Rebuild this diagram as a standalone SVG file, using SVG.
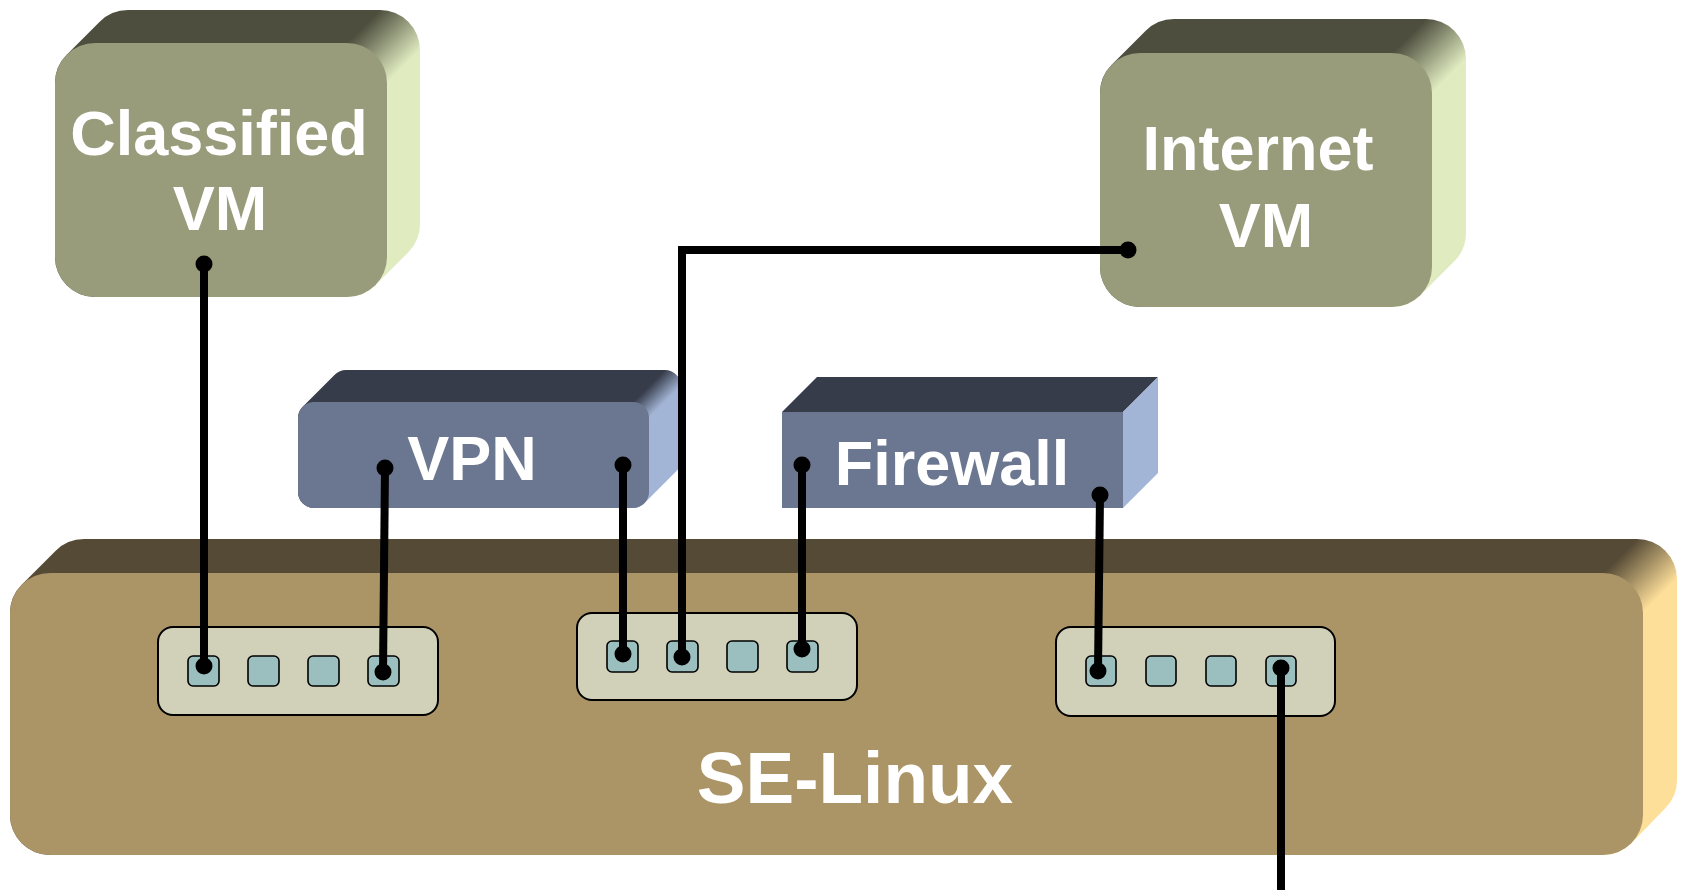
<svg xmlns="http://www.w3.org/2000/svg" width="1682" height="890" viewBox="0 0 1682 890">
<style>
.lbl{font-family:"Liberation Sans",Arial,sans-serif;font-weight:bold;fill:#ffffff;text-anchor:middle}
.vmf{fill:#989C7B}
.blf{fill:#6B7790}
.sef{fill:#AB9567}
.panel{fill:#D1D1B9;stroke:#000;stroke-width:2}
.port{fill:#9BBFBF;stroke:#000;stroke-width:1.6}
.wire{fill:none;stroke:#000;stroke-width:8;stroke-linejoin:miter}
.dot{fill:#000}
</style>
<defs>
<linearGradient id="gCls" gradientUnits="userSpaceOnUse" x1="347" y1="43" x2="387" y2="83"><stop offset="0" stop-color="#4D4E3D"/><stop offset="1" stop-color="#E0EBC0"/></linearGradient>
<linearGradient id="gInt" gradientUnits="userSpaceOnUse" x1="1392" y1="53" x2="1432" y2="93"><stop offset="0" stop-color="#4D4E3D"/><stop offset="1" stop-color="#E0EBC0"/></linearGradient>
<linearGradient id="gVpn" gradientUnits="userSpaceOnUse" x1="633" y1="402" x2="649" y2="418"><stop offset="0" stop-color="#363C4A"/><stop offset="1" stop-color="#A3B5D6"/></linearGradient>
<linearGradient id="gSe" gradientUnits="userSpaceOnUse" x1="1603" y1="573" x2="1643" y2="613"><stop offset="0" stop-color="#554A35"/><stop offset="1" stop-color="#FEDF9A"/></linearGradient>
</defs>

<g id="se-linux">
<path fill="url(#gSe)" d="M21.7,584.7 L55.7,550.7 A40,40 0 0 1 84,539 H1637 A40,40 0 0 1 1677,579 V780 A40,40 0 0 1 1665.3,808.3 L1631.3,843.3 A40,40 0 0 1 1603,855 H50 A40,40 0 0 1 10,815 V613 A40,40 0 0 1 21.7,584.7 Z"/>
<rect class="sef" x="10" y="573" width="1633" height="282" rx="40"/>
<text class="lbl" x="855" y="803" font-size="73">SE-Linux</text>
</g>

<g id="switch-left">
<rect class="panel" x="158" y="627" width="280" height="88" rx="15"/>
<rect class="port" x="188" y="656" width="31" height="30" rx="5"/>
<rect class="port" x="248" y="656" width="31" height="30" rx="5"/>
<rect class="port" x="308" y="656" width="31" height="30" rx="5"/>
<rect class="port" x="368" y="656" width="31" height="30" rx="5"/>
</g>

<g id="switch-middle">
<rect class="panel" x="577" y="613" width="280" height="87" rx="15"/>
<rect class="port" x="607" y="641" width="31" height="31" rx="5"/>
<rect class="port" x="667" y="641" width="31" height="31" rx="5"/>
<rect class="port" x="727" y="641" width="31" height="31" rx="5"/>
<rect class="port" x="787" y="641" width="31" height="31" rx="5"/>
</g>

<g id="switch-right">
<rect class="panel" x="1056" y="627" width="279" height="89" rx="15"/>
<rect class="port" x="1086" y="656" width="30" height="30" rx="5"/>
<rect class="port" x="1146" y="656" width="30" height="30" rx="5"/>
<rect class="port" x="1206" y="656" width="30" height="30" rx="5"/>
<rect class="port" x="1266" y="656" width="30" height="30" rx="5"/>
</g>

<g id="classified-vm">
<path fill="url(#gCls)" d="M66.7,54.7 L99.7,21.7 A40,40 0 0 1 128,10 H380 A40,40 0 0 1 420,50 V224 A40,40 0 0 1 408.3,252.3 L375.3,285.3 A40,40 0 0 1 347,297 H95 A40,40 0 0 1 55,257 V83 A40,40 0 0 1 66.7,54.7 Z"/>
<rect class="vmf" x="55" y="43" width="332" height="254" rx="40"/>
<text class="lbl" x="219" y="155" font-size="63">Classified</text>
<text class="lbl" x="220" y="230" font-size="63">VM</text>
</g>

<g id="internet-vm">
<path fill="url(#gInt)" d="M1111.7,64.7 L1145.7,30.7 A40,40 0 0 1 1174,19 H1426 A40,40 0 0 1 1466,59 V233 A40,40 0 0 1 1454.3,261.3 L1420.3,295.3 A40,40 0 0 1 1392,307 H1140 A40,40 0 0 1 1100,267 V93 A40,40 0 0 1 1111.7,64.7 Z"/>
<rect class="vmf" x="1100" y="53" width="332" height="254" rx="40"/>
<text class="lbl" x="1258" y="170" font-size="63">Internet</text>
<text class="lbl" x="1266" y="247" font-size="63">VM</text>
</g>

<g id="vpn">
<path fill="url(#gVpn)" d="M302.7,406.7 L334.7,374.7 A16,16 0 0 1 346,370 H665 A16,16 0 0 1 681,386 V460 A16,16 0 0 1 676.3,471.3 L644.3,503.3 A16,16 0 0 1 633,508 H314 A16,16 0 0 1 298,492 V418 A16,16 0 0 1 302.7,406.7 Z"/>
<rect class="blf" x="298" y="402" width="351" height="106" rx="16"/>
<text class="lbl" x="472" y="480" font-size="63">VPN</text>
</g>

<g id="firewall">
<polygon fill="#363C4A" points="782,412 817,377 1158,377 1123,412"/>
<polygon fill="#A3B5D6" points="1123,412 1158,377 1158,473 1123,508"/>
<rect class="blf" x="782" y="412" width="341" height="96"/>
<text class="lbl" x="952" y="485" font-size="63">Firewall</text>
</g>

<g id="connectors">
<path class="wire" d="M204,264 L204,666"/>
<path class="wire" d="M385,468 L383,672"/>
<path class="wire" d="M623,465 L623,654"/>
<path class="wire" d="M1128,250 H682 V657"/>
<path class="wire" d="M802,465 L802,649"/>
<path class="wire" d="M1100,495 L1098,671"/>
<path class="wire" d="M1281,668 L1281,890"/>
<circle class="dot" cx="204" cy="264" r="8.5"/>
<circle class="dot" cx="204" cy="666" r="8.5"/>
<circle class="dot" cx="385" cy="468" r="8.5"/>
<circle class="dot" cx="383" cy="672" r="8.5"/>
<circle class="dot" cx="623" cy="465" r="8.5"/>
<circle class="dot" cx="623" cy="654" r="8.5"/>
<circle class="dot" cx="1128" cy="250" r="8.5"/>
<circle class="dot" cx="682" cy="657" r="8.5"/>
<circle class="dot" cx="802" cy="465" r="8.5"/>
<circle class="dot" cx="802" cy="649" r="8.5"/>
<circle class="dot" cx="1100" cy="495" r="8.5"/>
<circle class="dot" cx="1098" cy="671" r="8.5"/>
<circle class="dot" cx="1281" cy="668" r="8.5"/>
</g>
</svg>
